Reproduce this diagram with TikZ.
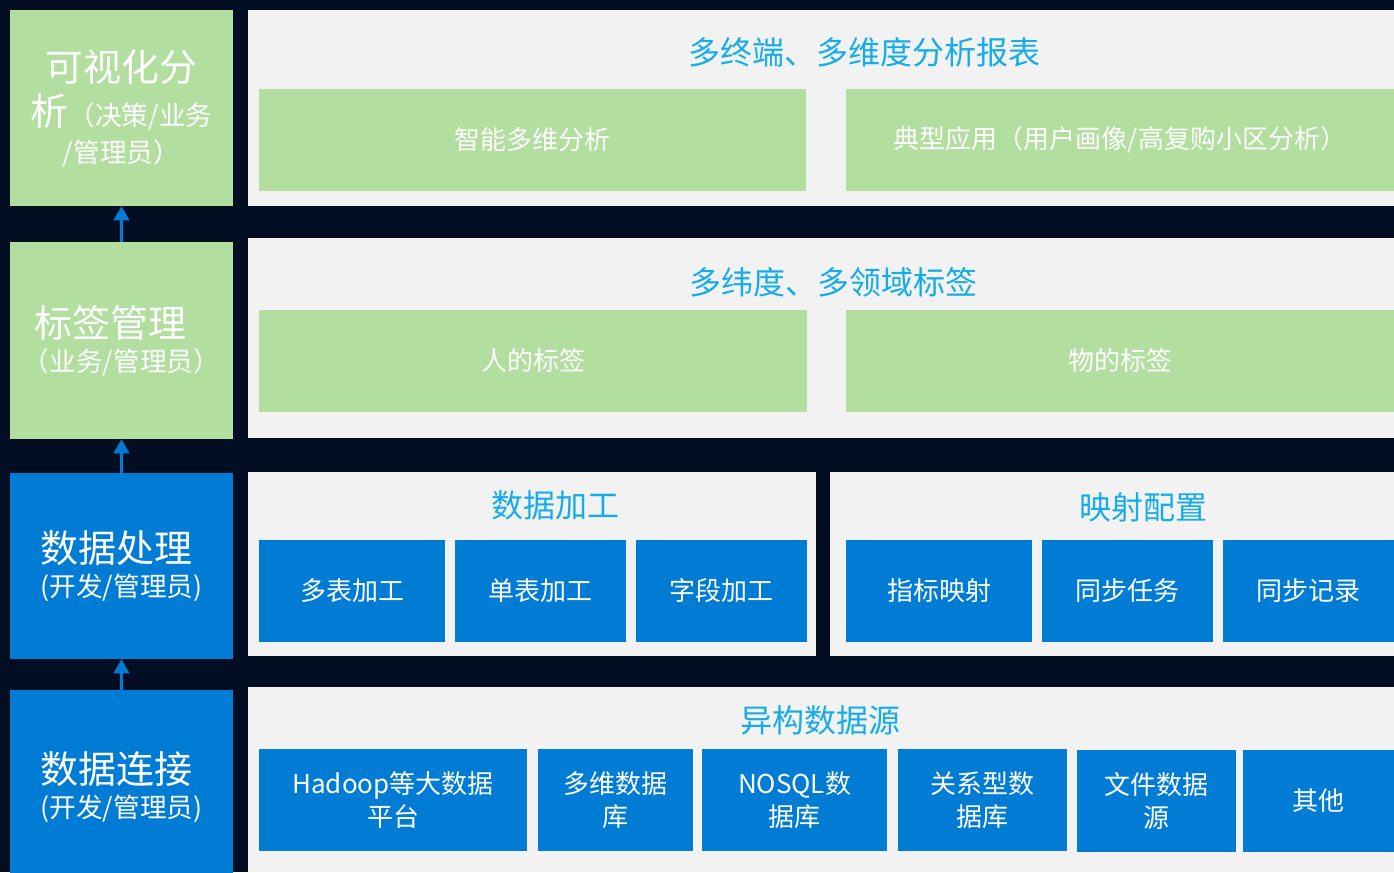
\documentclass[tikz,border=0pt]{standalone}
\usepackage{fontspec}
\setmainfont{Noto Sans CJK SC}
\usetikzlibrary{arrows.meta}
\definecolor{night}{RGB}{3,14,34}
\definecolor{panelgray}{RGB}{242,242,242}
\definecolor{leafgreen}{RGB}{178,222,160}
\definecolor{boxblue}{RGB}{0,124,212}
\definecolor{titlecyan}{RGB}{22,172,230}
\newcommand{\bigline}{\fontsize{28.5}{34}\selectfont}
\tikzset{
  cell/.style 2 args={inner sep=0pt, minimum width=#1*0.75pt, minimum height=#2*0.75pt,
    text=white, align=center, font=\fontsize{19.5}{24.75}\selectfont},
  layer/.style 2 args={cell={#1}{#2}, font=\fontsize{20}{25.5}\selectfont},
  headline/.style={text=titlecyan, inner sep=0pt, font=\fontsize{24}{28}\selectfont},
  lift/.style={boxblue, line width=2.25pt, -{Triangle[width=11.5pt,length=10.5pt]}}
}
\begin{document}
\begin{tikzpicture}[x=0.75pt,y=-0.75pt]
  \useasboundingbox (0,0) rectangle (1394,872);
  \fill[night] (0,0) rectangle (1394,872);

  \node[layer={223}{196}, fill=leafgreen] (vis) at (121.5,108)
    {{\bigline 可视化分}\\[6pt]{\bigline 析}（决策/业务\\[2pt]/管理员）};
  \node[layer={223}{197}, fill=leafgreen, align=left] (tag) at (121.5,340.5)
    {\hspace*{9pt}{\bigline 标签管理}\\（业务/管理员）};
  \node[layer={223}{186}, fill=boxblue, align=left] (proc) at (121.5,566)
    {{\bigline 数据处理}\\(开发/管理员)};
  \node[layer={223}{194}, fill=boxblue, align=left] (conn) at (121.5,787)
    {{\bigline 数据连接}\\(开发/管理员)};
  \draw[lift] (conn.north) -- (proc.south);
  \draw[lift] (proc.north) -- (tag.south);
  \draw[lift] (tag.north) -- (vis.south);

  \fill[panelgray] (248,10) rectangle (1394,206);
  \node[headline] (report) at (864.5,52) {多终端、多维度分析报表};
  \node[cell={547}{102}, fill=leafgreen] (smart) at (532.5,140) {智能多维分析};
  \node[cell={548}{102}, fill=leafgreen] (typical) at (1120,140) {典型应用（用户画像/高复购小区分析）};

  \fill[panelgray] (248,238) rectangle (1394,438);
  \node[headline] (tags) at (833,282) {多纬度、多领域标签};
  \node[cell={548}{102}, fill=leafgreen] (person) at (533,361) {人的标签};
  \node[cell={548}{102}, fill=leafgreen] (thing) at (1120,361) {物的标签};

  \fill[panelgray] (248,472) rectangle (816,656);
  \node[headline] (work) at (555.5,505) {数据加工};
  \node[cell={186}{102}, fill=boxblue] (multi) at (352,591) {多表加工};
  \node[cell={171}{102}, fill=boxblue] (single) at (540.5,591) {单表加工};
  \node[cell={171}{102}, fill=boxblue] (field) at (721.5,591) {字段加工};

  \fill[panelgray] (830,472) rectangle (1394,656);
  \node[headline] (mapping) at (1143.5,507) {映射配置};
  \node[cell={186}{102}, fill=boxblue] (index) at (939,591) {指标映射};
  \node[cell={171}{102}, fill=boxblue] (sync) at (1127.5,591) {同步任务};
  \node[cell={171}{102}, fill=boxblue] (record) at (1308.5,591) {同步记录};

  \fill[panelgray] (248,687) rectangle (1394,872);
  \node[headline] (source) at (820,720) {异构数据源};
  \node[cell={268}{102}, fill=boxblue] (hadoop) at (393,800) {Hadoop等大数据\\平台};
  \node[cell={155}{102}, fill=boxblue] (cube) at (615.5,800) {多维数据\\库};
  \node[cell={185}{102}, fill=boxblue] (nosql) at (794.5,800) {NOSQL数\\据库};
  \node[cell={169}{102}, fill=boxblue] (rdb) at (982.5,800) {关系型数\\据库};
  \node[cell={159}{102}, fill=boxblue] (file) at (1156.5,801) {文件数据\\源};
  \node[cell={151}{102}, fill=boxblue] (other) at (1318.5,801) {其他};
\end{tikzpicture}
\end{document}
